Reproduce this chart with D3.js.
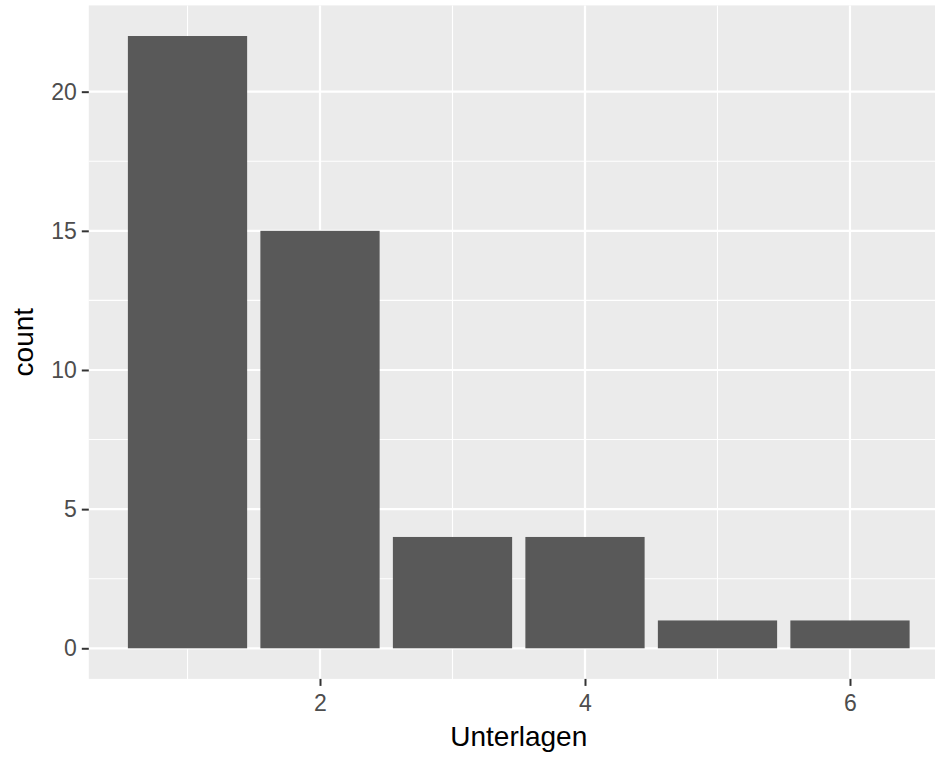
<!DOCTYPE html>
<html lang="de">
<head>
<meta charset="UTF-8">
<title>Unterlagen</title>
<script src="https://d3js.org/d3.v7.min.js"></script>
<style>
  body { margin:0; background:#fff; }
  svg { display:block; font-family:"Liberation Sans", Arial, sans-serif; }
  .tick-label { fill:#4d4d4d; font-size:23px; }
  .axis-title { fill:#000; font-size:28px; }
</style>
</head>
<body>
<script>
// values
var unterlagen = [1, 2, 3, 4, 5, 6];
var counts     = [22, 15, 4, 4, 1, 1];
var xTicks = [2, 4, 6];
var xMinor = [1, 3, 5];
var yTicks = [0, 5, 10, 15, 20];
var yMinor = [2.5, 7.5, 12.5, 17.5];

var width = 935, height = 759;
// panel runs past the right edge of the picture (the reference is cropped)
var margin = {top:5.4, left:88.8, right:-13.7, bottom:80.1};
var pw = width - margin.left - margin.right,
    ph = height - margin.top - margin.bottom;

var barW = 0.9;
// ggplot style expansion: 5% of data range
var xlo = d3.min(unterlagen) - barW/2, xhi = d3.max(unterlagen) + barW/2;
var xpad = (xhi - xlo) * 0.05;
var ymax = d3.max(counts), ypad = ymax * 0.05;

var x = d3.scaleLinear().domain([xlo - xpad, xhi + xpad]).range([0, pw]);
var y = d3.scaleLinear().domain([-ypad, ymax + ypad]).range([ph, 0]);

var svg = d3.select("body").append("svg")
    .attr("width", width).attr("height", height);

var g = svg.append("g")
    .attr("transform", "translate(" + margin.left + "," + margin.top + ")");

g.append("rect").attr("width", pw).attr("height", ph).attr("fill", "#ebebeb");

// minor grid
g.selectAll(".ymin").data(yMinor).enter().append("line")
  .attr("x1", 0).attr("x2", pw)
  .attr("y1", d => y(d)).attr("y2", d => y(d))
  .attr("stroke", "#fff").attr("stroke-width", 1.1);
g.selectAll(".xmin").data(xMinor).enter().append("line")
  .attr("y1", 0).attr("y2", ph)
  .attr("x1", d => x(d)).attr("x2", d => x(d))
  .attr("stroke", "#fff").attr("stroke-width", 1.1);
// major grid
g.selectAll(".ymaj").data(yTicks).enter().append("line")
  .attr("x1", 0).attr("x2", pw)
  .attr("y1", d => y(d)).attr("y2", d => y(d))
  .attr("stroke", "#fff").attr("stroke-width", 2.2);
g.selectAll(".xmaj").data(xTicks).enter().append("line")
  .attr("y1", 0).attr("y2", ph)
  .attr("x1", d => x(d)).attr("x2", d => x(d))
  .attr("stroke", "#fff").attr("stroke-width", 2.2);

// bars
g.selectAll(".bar").data(unterlagen).enter().append("rect")
  .attr("x", d => x(d - barW/2))
  .attr("width", d => x(d + barW/2) - x(d - barW/2))
  .attr("y", (d, i) => y(counts[i]))
  .attr("height", (d, i) => y(0) - y(counts[i]))
  .attr("fill", "#595959");

// axes
var xAxis = d3.axisBottom(x).tickValues(xTicks).tickFormat(d3.format("d")).tickSize(7).tickPadding(9);
var yAxis = d3.axisLeft(y).tickValues(yTicks).tickFormat(d3.format("d")).tickSize(7).tickPadding(5);

var gx = g.append("g").attr("transform", "translate(0," + ph + ")").call(xAxis);
var gy = g.append("g").call(yAxis);
[gx, gy].forEach(function(a) {
  a.attr("font-size", null).attr("font-family", null);
  a.select(".domain").remove();
  a.selectAll(".tick line").attr("stroke", "#333").attr("stroke-width", 2);
  a.selectAll(".tick text").attr("class", "tick-label");
});

g.append("text").attr("class", "axis-title")
  .attr("x", (x(xlo - xpad) + x(xhi + xpad)) / 2)
  .attr("y", ph + 67.5)
  .attr("text-anchor", "middle")
  .text("Unterlagen");

g.append("text").attr("class", "axis-title")
  .attr("transform", "translate(" + (33 - margin.left) + "," + (ph / 2) + ") rotate(-90)")
  .attr("text-anchor", "middle")
  .text("count");
</script>
</body>
</html>
